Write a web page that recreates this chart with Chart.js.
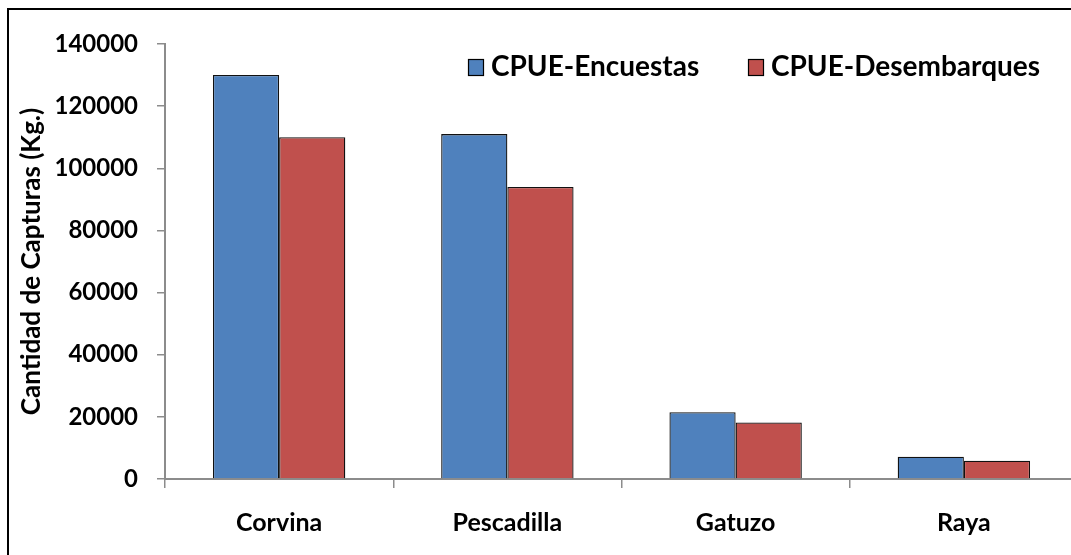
<!DOCTYPE html>
<html>
<head>
<meta charset="utf-8">
<script src="https://cdn.jsdelivr.net/npm/chart.js@4/dist/chart.umd.min.js"></script>
<style>
  html, body { margin: 0; padding: 0; background: #fff; overflow: hidden; }
  #wrap { width: 1071px; height: 555px; overflow: hidden; position: relative; }
  canvas { position: absolute; left: 0; top: 0; }
</style>
</head>
<body>
<div id="wrap"><canvas id="c" width="1090" height="570"></canvas></div>
<script>
const categories = ["Corvina", "Pescadilla", "Gatuzo", "Raya"];
const encuestas = [130000, 111000, 21500, 7200];
const desembarques = [110000, 94000, 18200, 5900];
const seriesNames = ["CPUE-Encuestas", "CPUE-Desembarques"];
const yTicks = [0, 20000, 40000, 60000, 80000, 100000, 120000, 140000];
const yTitle = "Cantidad de Capturas (Kg.)";

const FONT = "Lato";
const AXIS_GRAY = "#8c8c8c";

const framePlugin = {
  id: "frame",
  beforeDraw(chart) {
    const ctx = chart.ctx;
    ctx.save();
    ctx.fillStyle = "#fff";
    ctx.fillRect(0, 0, chart.width, chart.height);
    ctx.strokeStyle = "#000";
    ctx.lineWidth = 2;
    ctx.strokeRect(8, 9, chart.width + 20, chart.height + 20);
    ctx.restore();
  }
};

const legendPlugin = {
  id: "customLegend",
  afterDraw(chart) {
    const ctx = chart.ctx;
    const pos = [{ box: 468, text: 491 }, { box: 748, text: 771 }];
    ctx.save();
    ctx.font = "bold 28px " + FONT;
    ctx.textBaseline = "middle";
    ctx.textAlign = "left";
    chart.data.datasets.forEach((ds, i) => {
      const p = pos[i];
      ctx.fillStyle = ds.backgroundColor;
      ctx.fillRect(p.box, 59, 15, 16);
      ctx.strokeStyle = "#000";
      ctx.lineWidth = 1.2;
      ctx.strokeRect(p.box + 0.5, 59.5, 15, 16);
      ctx.fillStyle = "#000";
      ctx.fillText(ds.label, p.text, 67);
    });
    ctx.restore();
  }
};

new Chart(document.getElementById("c"), {
  type: "bar",
  data: {
    labels: categories,
    datasets: [
      { label: seriesNames[0], data: encuestas, backgroundColor: "#4F81BD", borderColor: "#111", borderWidth: 1.3 },
      { label: seriesNames[1], data: desembarques, backgroundColor: "#C0504D", borderColor: "#111", borderWidth: 1.3 }
    ]
  },
  options: {
    responsive: false,
    animation: false,
    devicePixelRatio: 1,
    layout: { padding: { left: 0, top: 44, right: 12, bottom: 0 } },
    datasets: { bar: { categoryPercentage: 0.58, barPercentage: 1.0 } },
    plugins: { legend: { display: false }, tooltip: { enabled: false } },
    scales: {
      x: {
        grid: { display: true, drawOnChartArea: false, drawTicks: true, tickLength: 9, color: AXIS_GRAY, lineWidth: 1.5, offset: true },
        border: { display: true, color: AXIS_GRAY, width: 2 },
        ticks: { color: "#000", font: { family: FONT, size: 25, weight: "bold" }, padding: 20, maxRotation: 0 },
        afterFit(s) { s.height = 570 - 479; }
      },
      y: {
        min: 0, max: 140000,
        afterBuildTicks(s) { s.ticks = yTicks.map(v => ({ value: v })); },
        grid: { display: true, drawOnChartArea: false, drawTicks: true, tickLength: 8, color: AXIS_GRAY, lineWidth: 1.5 },
        border: { display: true, color: AXIS_GRAY, width: 2 },
        ticks: { color: "#000", font: { family: FONT, size: 24, weight: "bold" }, padding: 19, callback: v => String(v) },
        title: { display: true, text: yTitle, color: "#000", font: { family: FONT, size: 26, weight: "bold" }, padding: { top: 16, bottom: 0 } },
        afterFit(s) { s.width = 165; }
      }
    }
  },
  plugins: [framePlugin, legendPlugin]
});
</script>
</body>
</html>
